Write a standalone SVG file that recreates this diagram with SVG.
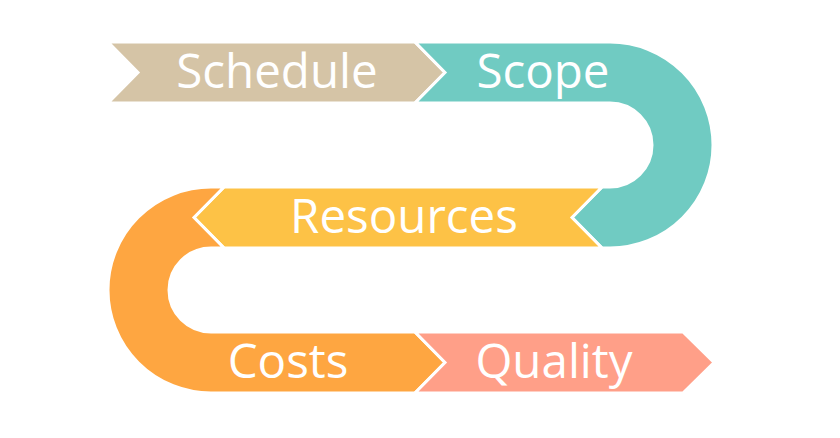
<svg xmlns="http://www.w3.org/2000/svg" width="840" height="438" viewBox="0 0 840 438">
<style>
.seg{stroke:#fff;stroke-width:3;stroke-linejoin:miter}
.lbl{font-family:"Open Sans","Noto Sans",sans-serif;font-size:47.5px;fill:#fff;text-anchor:middle}
</style>
<rect width="840" height="438" fill="#fff"/>
<g id="schedule">
<path class="seg" fill="#D5C4A6" d="M108,42 L415,42 L445,72.5 L415,103 L108,103 L138,72.5 Z"/>
<text class="lbl" x="277" y="88">Schedule</text>
</g>
<g id="scope">
<path class="seg" fill="#70CBC2" d="M415,42 L610,42 A103,103 0 0 1 610,248 L602,248 L572,217.5 L602,187 L610,187 A42,42 0 0 0 610,103 L415,103 L445,72.5 Z"/>
<text class="lbl" x="543" y="88">Scope</text>
</g>
<g id="resources">
<path class="seg" fill="#FDC246" d="M602,187 L572,217.5 L602,248 L224,248 L194,217.5 L224,187 Z"/>
<text class="lbl" x="404" y="233">Resources</text>
</g>
<g id="costs">
<path class="seg" fill="#FEA641" d="M211,187 A103,103 0 0 0 211,393 L415,393 L445,362.5 L415,332 L211,332 A42,42 0 0 1 211,248 L224,248 L194,217.5 L224,187 Z"/>
<text class="lbl" x="288" y="378">Costs</text>
</g>
<g id="quality">
<path class="seg" fill="#FF9F88" d="M415,332 L683,332 L714,362.5 L683,393 L415,393 L445,362.5 Z"/>
<text class="lbl" x="554" y="378">Quality</text>
</g>
<g id="connectors"></g>
</svg>
